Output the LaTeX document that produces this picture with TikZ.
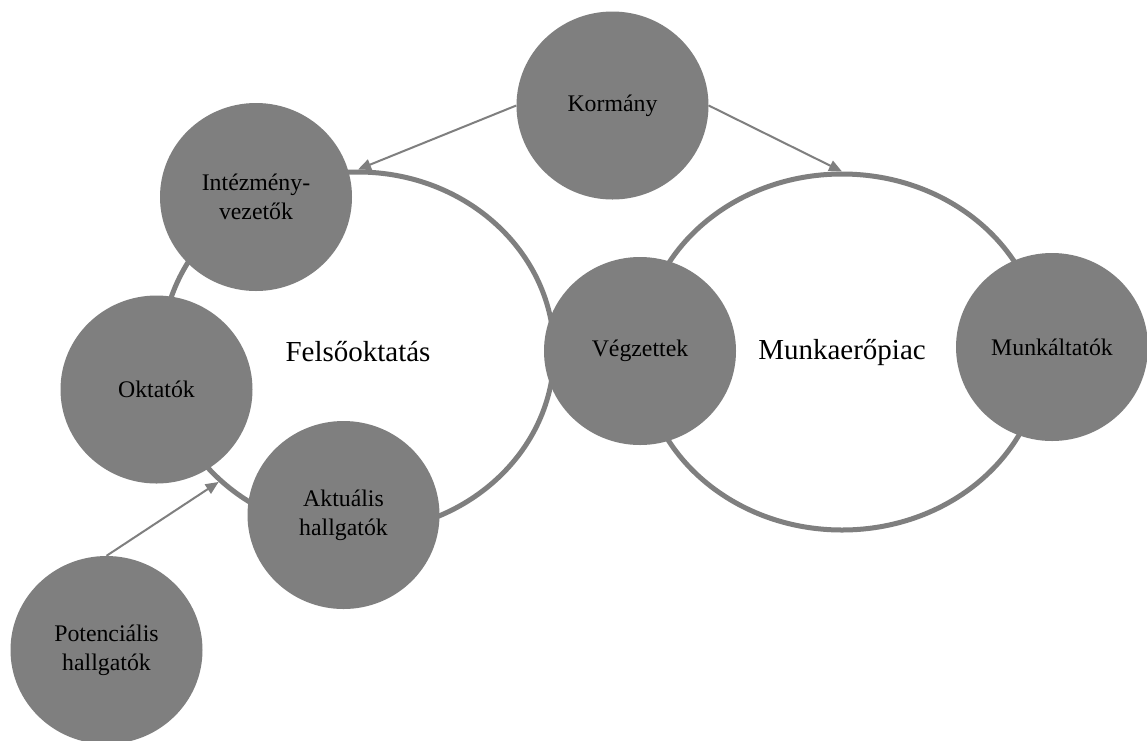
\documentclass[tikz,border=0pt]{standalone}
\usepackage{fontspec}
\setmainfont{Liberation Serif}
\usetikzlibrary{shapes.geometric,arrows.meta}
\definecolor{circgray}{RGB}{127,127,127}
\begin{document}
\begin{tikzpicture}[x=1pt,y=-1pt,
  bigring/.style={ellipse, draw=circgray, line width=5pt, inner sep=0pt,
    font=\fontsize{29}{34}\selectfont},
  actor/.style={ellipse, fill=circgray, minimum width=192pt, minimum height=188pt,
    inner sep=0pt, align=center, font=\fontsize{23.8}{29}\selectfont},
  flow/.style={draw=circgray, line width=2pt, -{Triangle[length=13pt,width=11pt]}}]
\useasboundingbox[fill=white] (0,0) rectangle (1147,740);
\node[bigring, minimum width=392pt, minimum height=360pt] (fel) at (358,352) {Felsőoktatás};
\node[bigring, minimum width=400pt, minimum height=356pt] (munka) at (842,352) {Munkaerőpiac};
\node[actor] (korm) at (612.5,105.5) {Kormány};
\node[actor] (intez) at (256,197) {Intézmény-\\vezetők};
\node[actor] (okt) at (156.5,389.5) {Oktatók};
\node[actor] (aktu) at (343.5,515) {Aktuális\\hallgatók};
\node[actor] (pot) at (106.5,650) {Potenciális\\hallgatók};
\node[actor] (vegz) at (640,351) {Végzettek};
\node[actor] (munkalt) at (1052,347) {Munkáltatók};
\draw[flow] (korm.west) -- (fel.north);
\draw[flow] (korm.east) -- (munka.north);
\draw[flow] (pot.north) -- (fel.223);
\end{tikzpicture}
\end{document}
